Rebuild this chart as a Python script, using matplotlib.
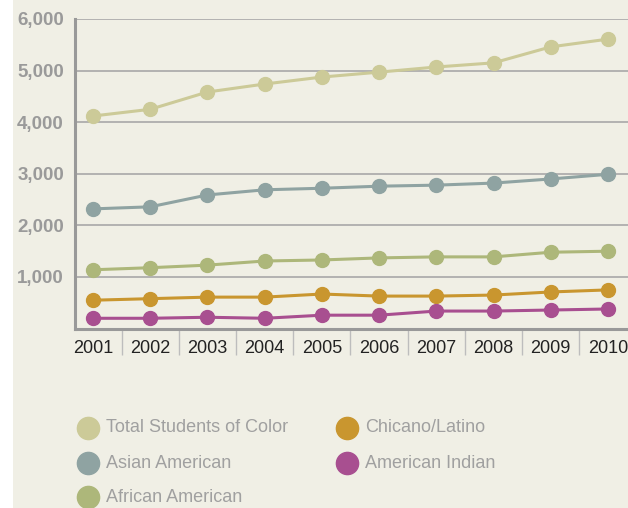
import numpy as np
import matplotlib.pyplot as plt
from matplotlib.lines import Line2D
from matplotlib.patches import Rectangle

plt.rcParams['font.family'] = ['Liberation Sans', 'DejaVu Sans']

years = [2001, 2002, 2003, 2004, 2005, 2006, 2007, 2008, 2009, 2010]
total = [4120, 4250, 4585, 4740, 4875, 4970, 5070, 5150, 5460, 5610]
asian = [2320, 2360, 2590, 2690, 2720, 2760, 2780, 2820, 2900, 2990]
african = [1140, 1180, 1230, 1310, 1330, 1370, 1390, 1390, 1480, 1500]
chicano = [550, 580, 610, 610, 670, 630, 630, 650, 710, 750]
indian = [200, 200, 220, 200, 260, 260, 340, 340, 360, 380]

names = ['Total Students of Color', 'Asian American', 'African American',
         'Chicano/Latino', 'American Indian']
series = [total, asian, african, chicano, indian]
colors = ['#CCCA98', '#8FA3A2', '#ADB77A', '#C9962F', '#A84F90']

bg = '#F0EFE5'
W, H = 628, 508
fig = plt.figure(figsize=(W / 100, H / 100), dpi=100, facecolor=bg)
fig.patches.append(Rectangle((0, 0), 13 / W, 1, transform=fig.transFigure,
                             facecolor='white', edgecolor='none', zorder=-1))
ax = fig.add_axes([75 / W, 1 - 328.6 / H, 1 - 75 / W, (328.6 - 19) / H])
ax.set_facecolor(bg)

for vals, c in zip(series, colors):
    ax.plot(years, vals, color=c, lw=2.2, marker='o', ms=10, mec=c, mfc=c,
            zorder=3, clip_on=False)

ax.set_xlim(years[0] - 0.315, years[-1] + 0.35)
ax.set_ylim(0, 6000)
ax.set_yticks([1000, 2000, 3000, 4000, 5000, 6000])
ax.set_yticklabels(['1,000', '2,000', '3,000', '4,000', '5,000', '6,000'])
ax.grid(axis='y', color='#A8A8A8', lw=1.2)
ax.set_axisbelow(True)
for s in ['top', 'right']:
    ax.spines[s].set_visible(False)
for s in ['left', 'bottom']:
    ax.spines[s].set_color('#999999')
    ax.spines[s].set_linewidth(2.2)
ax.tick_params(axis='y', length=0, pad=8, labelsize=13.5, labelcolor='#9A9A9A')
for t in ax.get_yticklabels():
    t.set_fontweight('bold')
ax.set_xticks(years)
ax.set_xticks([y + 0.5 for y in years[:-1]], minor=True)
ax.tick_params(axis='x', which='major', length=0, pad=8, labelsize=13,
               labelcolor='#222222')
ax.tick_params(axis='x', which='minor', length=19, width=1, color='#BDBDBD',
               direction='out')

# legend, laid out by hand in two columns
slots = [(88, 428), (88, 463), (88, 497), (347, 428), (347, 463)]
for (px, py), name, c in zip(slots, names, colors):
    fig.add_artist(Line2D([px / W], [1 - py / H], transform=fig.transFigure,
                          ls='none', marker='o', ms=16, mfc=c, mec=c))
    fig.text((px + 18) / W, 1 - py / H, name, fontsize=13, color='#A0A0A0',
             va='center', ha='left')

fig.savefig('out.png', dpi=100, facecolor=bg)
